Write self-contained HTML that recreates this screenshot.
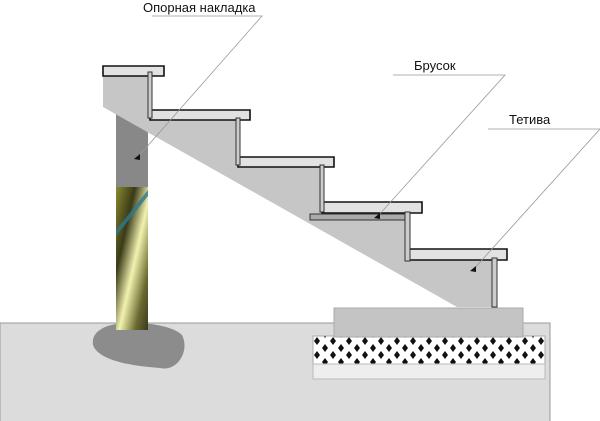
<!DOCTYPE html>
<html><head><meta charset="utf-8"><style>
html,body{margin:0;padding:0;background:#fff;width:600px;height:421px;overflow:hidden}
</style></head><body>
<svg width="600" height="421" viewBox="0 0 600 421" xmlns="http://www.w3.org/2000/svg">
<defs>
<linearGradient id="pg" x1="0" y1="0" x2="1" y2="1" gradientUnits="objectBoundingBox">
<stop offset="0" stop-color="#8a8a30"/>
<stop offset="0.3" stop-color="#3a3a18"/>
<stop offset="0.55" stop-color="#f2f2b0"/>
<stop offset="0.8" stop-color="#6a6a30"/>
<stop offset="1" stop-color="#3a3a20"/>
</linearGradient>
<pattern id="hatch" width="16" height="14" patternUnits="userSpaceOnUse" x="313" y="336">
<rect width="16" height="14" fill="#fff"/>
<path d="M4 1 L7 5 L4 9 L1 5Z M12 8 L15 12 L12 16 L9 12Z M12 -6 L15 -2 L12 2 L9 -2Z" fill="#111"/>
</pattern>
</defs>
<!-- ground -->
<rect x="0" y="323" width="550" height="100" fill="#dcdcdc" stroke="#999" stroke-width="1"/>
<rect x="313" y="336" width="232" height="28" fill="url(#hatch)" stroke="#aaa"/>
<rect x="313" y="364" width="232" height="15" fill="#eee" stroke="#bbb"/>
<rect x="334" y="308" width="189" height="29" fill="#c4c4c4" stroke="#aaa"/>
<!-- rock -->
<path d="M100 330 C115 318 170 322 182 335 C190 350 178 372 160 368 C130 366 98 360 93 345 C92 338 95 333 100 330Z" fill="#8c8c8c"/>
<!-- post -->
<rect x="116" y="113" width="32" height="75" fill="#888"/>
<rect x="116" y="187" width="32" height="143" fill="url(#pg)"/>
<path d="M116 230 L148 190 L148 196 L116 236Z" fill="#2a7a90" opacity="0.8"/>
<!-- stringer -->
<polygon points="103,76 150,76 150,118 238,118 238,165 322,165 322,212 407,212 407,258 495,258 495,307 457,307 103,107" fill="#c6c6c6"/>
<!-- treads -->
<g fill="#e2e2e2" stroke="#111" stroke-width="1.6">
<path d="M103,66 H164 V76 H103 Z"/>
<path d="M150,110 H250 V120 H150 Z"/>
<path d="M238,157 H334 V167 H238 Z"/>
<path d="M322,202 H422 V213 H322 Z"/>
<path d="M409,249 H507 V260 H409 Z"/>
</g>
<rect x="310" y="214" width="96" height="6" fill="#aaa" stroke="#333" stroke-width="1"/>
<!-- risers -->
<g fill="#ccc" stroke="#333" stroke-width="1">
<rect x="148" y="72" width="4" height="46"/>
<rect x="236" y="118" width="4" height="47"/>
<rect x="320" y="165" width="4" height="47"/>
<rect x="405" y="212" width="5" height="49"/>
<rect x="492" y="258" width="5" height="49"/>
</g>
<!-- leaders -->
<g stroke="#999" stroke-width="0.8" fill="none">
<path d="M152 16 H262 L137 158"/>
<path d="M393 75 H505 L377 217"/>
<path d="M488 129 H600 L473 270"/>
</g>
<g fill="#111">
<path d="M134 159 l6 -5 l0 6z"/>
<path d="M374 218 l6 -5 l0 6z"/>
<path d="M470 271 l6 -5 l0 6z"/>
</g>
<g font-family="Liberation Sans, sans-serif" font-size="13" fill="#111">
<text x="143" y="12">Опорная накладка</text>
<text x="414" y="70">Брусок</text>
<text x="509" y="124">Тетива</text>
</g>
</svg>
</body></html>
